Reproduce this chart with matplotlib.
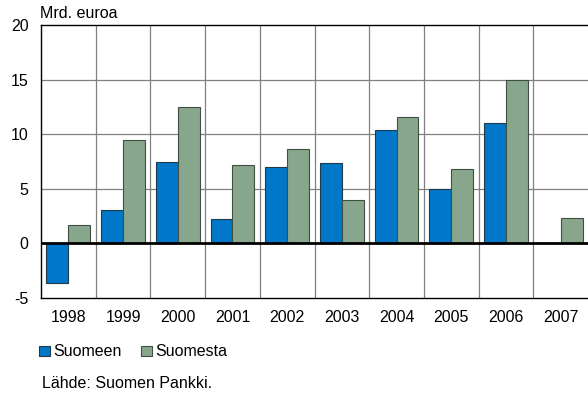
import numpy as np
import matplotlib.pyplot as plt

plt.rcParams['font.family'] = ['Liberation Sans', 'DejaVu Sans']
plt.rcParams['axes.unicode_minus'] = False

# data
vuodet = ['1998', '1999', '2000', '2001', '2002', '2003', '2004', '2005', '2006', '2007']
suomeen = [-3.6, 3.1, 7.5, 2.2, 7.0, 7.4, 10.4, 5.0, 11.0, np.nan]
suomesta = [1.65, 9.5, 12.5, 7.2, 8.6, 4.0, 11.6, 6.8, 15.0, 2.3]

sininen = '#0077c8'
vihrea = '#88a68c'

fig = plt.figure(figsize=(5.88, 3.97), dpi=100)
ax = fig.add_axes([41/588, 99/397, 547/588, 273/397])

x = np.arange(len(vuodet))
w = 0.4
ax.bar(x - w/2, suomeen, w, color=sininen, edgecolor='#1f3a4a', linewidth=0.8,
       label='Suomeen', zorder=3)
ax.bar(x + w/2, suomesta, w, color=vihrea, edgecolor='#3f4f42', linewidth=0.8,
       label='Suomesta', zorder=3)

ax.set_xlim(-0.5, len(vuodet) - 0.5)
ax.set_ylim(-5, 20)
ax.set_yticks([-5, 0, 5, 10, 15, 20])
ax.set_xticks(x)
ax.set_xticklabels(vuodet)
ax.tick_params(length=0, labelsize=11.5, pad=9)
ax.tick_params(axis='y', pad=9)

# ruudukko
for xv in np.arange(0.5, len(vuodet) - 0.5, 1):
    ax.axvline(xv, color='#808080', linewidth=0.9, zorder=1)
for yv in [5, 10, 15]:
    ax.axhline(yv, color='#808080', linewidth=0.9, zorder=1)
ax.axhline(0, color='black', linewidth=2, zorder=4)

for s in ['left', 'top', 'bottom']:
    ax.spines[s].set_color('black')
    ax.spines[s].set_linewidth(1)
ax.spines['right'].set_visible(False)

fig.text(40/588, 1 - 14/397, 'Mrd. euroa', fontsize=11.5, va='center', ha='left')

fig.legend(loc='center left', bbox_to_anchor=(33/588, 1 - 352/397), ncol=2,
           frameon=False, fontsize=11.5, handlelength=0.65, handleheight=0.65,
           handletextpad=0.25, columnspacing=1.2, borderaxespad=0)

fig.text(42/588, 1 - 384/397, 'Lähde: Suomen Pankki.', fontsize=11.5, va='center', ha='left')

fig.savefig('out.png', dpi=100)
